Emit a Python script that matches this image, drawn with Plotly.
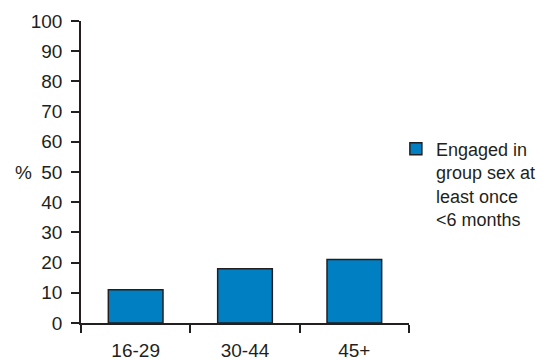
import plotly.graph_objects as go

categories = ["16-29", "30-44", "45+"]
values = [11, 18, 21]
series_name = "Engaged in<br>group sex at<br>least once<br>&lt;6 months"
y_ticks = [0, 10, 20, 30, 40, 50, 60, 70, 80, 90, 100]

FONT = "Liberation Sans, Arial, sans-serif"
TXT = "#231f20"

fig = go.Figure()
fig.add_trace(go.Bar(
    x=categories, y=values, name=series_name,
    marker=dict(color="#0080c3", line=dict(color="#231f20", width=1.5)),
    showlegend=True,
))

# page body has an 8px margin, so the figure is 8px smaller than the window
fig.update_layout(
    width=549, height=352,
    margin=dict(l=73, r=148, t=13, b=37, autoexpand=False),
    paper_bgcolor="white", plot_bgcolor="white",
    bargap=0.5,
    font=dict(family=FONT, color=TXT, size=19),
    legend=dict(x=0.960, y=0.637, xanchor="left", yanchor="top",
                valign="top", font=dict(size=18, family=FONT, color=TXT),
                bgcolor="rgba(0,0,0,0)"),
    showlegend=True,
)
fig.update_xaxes(
    showline=True, linecolor="#231f20", linewidth=1.5,
    ticks="outside", ticklen=8, tickwidth=1.5, tickcolor="#231f20",
    tickson="boundaries", showgrid=False, zeroline=False,
    tickfont=dict(size=19, family=FONT, color=TXT),
    ticklabelstandoff=9, automargin=False,
)
fig.update_yaxes(
    range=[0, 100], tickvals=y_ticks,
    showline=True, linecolor="#231f20", linewidth=1.5,
    ticks="outside", ticklen=8, tickwidth=1.5, tickcolor="#231f20",
    showgrid=False, zeroline=False,
    tickfont=dict(size=19, family=FONT, color=TXT),
    ticklabelstandoff=5, automargin=False,
)
fig.add_annotation(text="%", xref="paper", yref="y", x=-0.175, y=50,
                   xanchor="center", showarrow=False,
                   font=dict(size=19, family=FONT, color=TXT))

fig.write_html("out.html")
